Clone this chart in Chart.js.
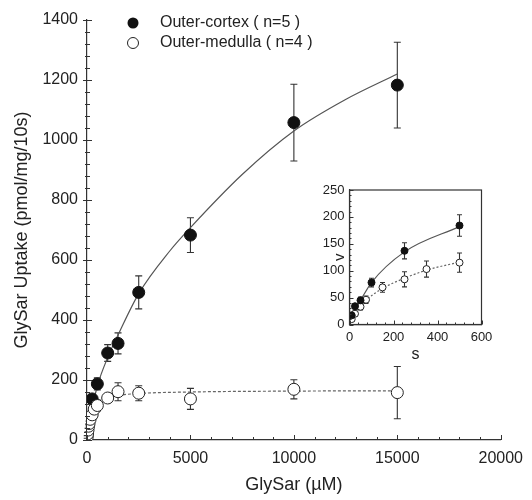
<!DOCTYPE html>
<html>
<head>
<meta charset="utf-8">
<script src="https://cdn.jsdelivr.net/npm/chart.js@4.4.1/dist/chart.umd.min.js"></script>
<style>
  body { margin: 0; background: #fff; }
  #wrap { position: relative; width: 532px; height: 500px; }
  #main { position: absolute; left: 0; top: 0; }
  #inset { position: absolute; left: 315px; top: 175px; }
</style>
</head>
<body>
<div id="wrap">
  <canvas id="main" width="532" height="500"></canvas>
  <canvas id="inset" width="185" height="190"></canvas>
</div>
<script>
// Datos del gráfico principal (GlySar en µM)
const xTicks = [0, 5000, 10000, 15000, 20000];
const yTicks = [0, 200, 400, 600, 800, 1000, 1200, 1400];

const cortexConc = [250, 500, 1000, 1500, 2500, 5000, 10000, 15000];
const cortexUptake = [137, 187, 290, 322, 492, 683, 1058, 1183];
const cortexErr = [15, 20, 28, 35, 55, 58, 128, 143];

const medullaConc = [10, 25, 50, 75, 100, 150, 250, 350, 500, 1000, 1500, 2500, 5000, 10000, 15000];
const medullaUptake = [10, 20, 33, 46, 55, 69, 84, 103, 115, 140, 161, 156, 137, 169, 158];
const medullaErr = [4, 5, 6, 7, 8, 9, 14, 15, 18, 12, 30, 25, 35, 32, 87];

// curvas ajustadas
const cortexFitX = [0, 250, 500, 1000, 1500, 2500, 4000, 5000, 7500, 10000, 12500, 15000];
const cortexFitY = [0, 105, 180, 275, 350, 488, 630, 708, 885, 1030, 1135, 1220];
const medullaFitX = [0, 50, 100, 250, 500, 1000, 1500, 2500, 5000, 10000, 15000];
const medullaFitY = [0, 35, 55, 88, 115, 138, 148, 155, 160, 163, 164];

// Datos del recuadro (s, v)
const insetXTicks = [0, 200, 400, 600];
const insetYTicks = [0, 50, 100, 150, 200, 250];
const insetCortexS = [10, 25, 50, 100, 250, 500];
const insetCortexV = [17, 34, 45, 78, 137, 184];
const insetCortexErr = [4, 5, 6, 8, 15, 20];
const insetMedullaS = [10, 25, 50, 75, 150, 250, 350, 500];
const insetMedullaV = [10, 20, 33, 46, 69, 84, 103, 115];
const insetMedullaErr = [4, 5, 6, 7, 9, 14, 15, 18];
const insetCortexFitS = [0, 25, 50, 100, 250, 500];
const insetCortexFitV = [0, 28, 45, 78, 135, 182];
const insetMedullaFitS = [0, 25, 50, 75, 150, 250, 350, 500];
const insetMedullaFitV = [0, 22, 34, 45, 67, 86, 101, 116];

const legendLabels = ["Outer-cortex ( n=5 )", "Outer-medulla ( n=4 )"];

Chart.defaults.font.family = 'Arial, "Liberation Sans", sans-serif';
Chart.defaults.color = "#222";

function puntos(xs, ys) {
    return xs.map((x, i) => ({ x: x, y: ys[i] }));
}

// barras de error a partir de dataset.errors
const barrasError = {
    id: "barrasError",
    beforeDatasetsDraw(chart, args, opts) {
        const ctx = chart.ctx;
        const sx = chart.scales.x, sy = chart.scales.y;
        ctx.save();
        ctx.strokeStyle = "#333";
        ctx.lineWidth = 1.1;
        chart.data.datasets.forEach(ds => {
            if (!ds.errors) return;
            ds.data.forEach((p, j) => {
                const e = ds.errors[j];
                const px = sx.getPixelForValue(p.x);
                const top = sy.getPixelForValue(p.y + e);
                const bot = sy.getPixelForValue(Math.max(p.y - e, 0));
                ctx.beginPath();
                ctx.moveTo(px, top); ctx.lineTo(px, bot);
                ctx.moveTo(px - opts.cap, top); ctx.lineTo(px + opts.cap, top);
                ctx.moveTo(px - opts.cap, bot); ctx.lineTo(px + opts.cap, bot);
                ctx.stroke();
            });
        });
        ctx.restore();
    }
};

// marcas mayores y menores de los ejes
const marcasEjes = {
    id: "marcasEjes",
    afterDraw(chart, args, opts) {
        const ctx = chart.ctx;
        const sx = chart.scales.x, sy = chart.scales.y;
        const a = chart.chartArea;
        ctx.save();
        ctx.strokeStyle = "#333";
        ctx.lineWidth = 1;
        ctx.beginPath();
        for (let v = sx.min; v <= sx.max; v += opts.xMinor) {
            const px = Math.round(sx.getPixelForValue(v)) + 0.5;
            const len = v % opts.xMajor === 0 ? opts.major : opts.minor;
            ctx.moveTo(px, a.bottom); ctx.lineTo(px, a.bottom - len);
        }
        for (let v = sy.min; v <= sy.max; v += opts.yMinor) {
            const py = Math.round(sy.getPixelForValue(v)) + 0.5;
            const major = v % opts.yMajor === 0;
            const len = major ? opts.major : opts.minor;
            const out = major ? opts.out : opts.out / 2;
            ctx.moveTo(a.left - out, py); ctx.lineTo(a.left + len, py);
        }
        ctx.stroke();
        if (opts.box) {
            ctx.lineWidth = 1.2;
            ctx.strokeRect(a.left, a.top, a.right - a.left, a.bottom - a.top);
        }
        ctx.restore();
    }
};

// leyenda dentro del gráfico
const leyenda = {
    id: "leyenda",
    afterDraw(chart) {
        const ctx = chart.ctx;
        ctx.save();
        ctx.font = '16px Arial, "Liberation Sans", sans-serif';
        ctx.fillStyle = "#222";
        ctx.textBaseline = "middle";
        ctx.fillText(legendLabels[0], 160, 23);
        ctx.fillText(legendLabels[1], 160, 43);
        ctx.beginPath();
        ctx.arc(133, 23, 5.5, 0, Math.PI * 2);
        ctx.fillStyle = "#111";
        ctx.fill();
        ctx.beginPath();
        ctx.arc(133, 43, 5.5, 0, Math.PI * 2);
        ctx.fillStyle = "#fff";
        ctx.fill();
        ctx.strokeStyle = "#222";
        ctx.lineWidth = 1;
        ctx.stroke();
        ctx.restore();
    }
};

// etiqueta "v" del recuadro
const etiquetaV = {
    id: "etiquetaV",
    afterDraw(chart) {
        const ctx = chart.ctx;
        const py = chart.scales.y.getPixelForValue(125);
        ctx.save();
        ctx.translate(chart.chartArea.left - 9.5, py);
        ctx.rotate(-Math.PI / 2);
        ctx.font = '15px Arial, "Liberation Sans", sans-serif';
        ctx.fillStyle = "#222";
        ctx.textAlign = "center";
        ctx.textBaseline = "middle";
        ctx.fillText("v", 0, 0);
        ctx.restore();
    }
};

const sinComas = v => String(v);

new Chart(document.getElementById("main"), {
    type: "scatter",
    data: {
        datasets: [
            {
                data: puntos(cortexConc, cortexUptake),
                errors: cortexErr,
                pointRadius: 6,
                backgroundColor: "#111",
                borderColor: "#111",
                borderWidth: 1,
                order: 1
            },
            {
                data: puntos(medullaConc, medullaUptake),
                errors: medullaErr,
                pointRadius: 6,
                backgroundColor: "#fff",
                borderColor: "#222",
                borderWidth: 1,
                order: 0
            },
            {
                data: puntos(cortexFitX, cortexFitY),
                showLine: true,
                cubicInterpolationMode: "monotone",
                pointRadius: 0,
                borderColor: "#555",
                borderWidth: 1.2,
                order: 3
            },
            {
                data: puntos(medullaFitX, medullaFitY),
                showLine: true,
                cubicInterpolationMode: "monotone",
                pointRadius: 0,
                borderColor: "#666",
                borderWidth: 1.2,
                borderDash: [3, 2],
                order: 3
            }
        ]
    },
    options: {
        animation: false,
        responsive: false,
        layout: { padding: { top: 20, right: 25, left: 0, bottom: 0 } },
        plugins: {
            legend: { display: false },
            tooltip: { enabled: false },
            barrasError: { cap: 3.5 },
            marcasEjes: { xMinor: 1000, xMajor: 5000, yMinor: 40, yMajor: 200, major: 5, minor: 3, out: 4, box: false }
        },
        scales: {
            x: {
                type: "linear",
                min: 0,
                max: 20000,
                afterBuildTicks: s => { s.ticks = xTicks.map(v => ({ value: v })); },
                ticks: { padding: 9, font: { size: 16 }, maxRotation: 0, callback: sinComas },
                grid: { display: false, drawTicks: false },
                border: { color: "#333", width: 1.2 },
                title: { display: true, text: "GlySar (µM)", font: { size: 18 }, padding: { top: 0, bottom: 4 } },
                afterFit: s => { s.height = 60; }
            },
            y: {
                min: 0,
                max: 1400,
                afterBuildTicks: s => { s.ticks = yTicks.map(v => ({ value: v })); },
                ticks: { padding: 9, font: { size: 16 }, callback: sinComas },
                grid: { display: false, drawTicks: false },
                border: { color: "#333", width: 1.2 },
                title: { display: true, text: "GlySar Uptake (pmol/mg/10s)", font: { size: 18 }, padding: { top: 11, bottom: 0 } },
                afterFit: s => { s.width = 87; }
            }
        }
    },
    plugins: [barrasError, marcasEjes, leyenda]
});

new Chart(document.getElementById("inset"), {
    type: "scatter",
    data: {
        datasets: [
            {
                data: puntos(insetCortexS, insetCortexV),
                errors: insetCortexErr,
                pointRadius: 3.5,
                backgroundColor: "#111",
                borderColor: "#111",
                borderWidth: 1,
                order: 0
            },
            {
                data: puntos(insetMedullaS, insetMedullaV),
                errors: insetMedullaErr,
                pointRadius: 3.5,
                backgroundColor: "#fff",
                borderColor: "#222",
                borderWidth: 1,
                order: 1
            },
            {
                data: puntos(insetCortexFitS, insetCortexFitV),
                showLine: true,
                cubicInterpolationMode: "monotone",
                pointRadius: 0,
                borderColor: "#555",
                borderWidth: 1.2,
                order: 3
            },
            {
                data: puntos(insetMedullaFitS, insetMedullaFitV),
                showLine: true,
                cubicInterpolationMode: "monotone",
                pointRadius: 0,
                borderColor: "#666",
                borderWidth: 1.2,
                borderDash: [2, 2],
                order: 3
            }
        ]
    },
    options: {
        animation: false,
        responsive: false,
        layout: { padding: { top: 15, right: 18.5, left: 0, bottom: 0 } },
        plugins: {
            legend: { display: false },
            tooltip: { enabled: false },
            barrasError: { cap: 2.5 },
            marcasEjes: { xMinor: 40, xMajor: 200, yMinor: 10, yMajor: 50, major: 4, minor: 2, out: 0, box: true }
        },
        scales: {
            x: {
                type: "linear",
                min: 0,
                max: 600,
                afterBuildTicks: s => { s.ticks = insetXTicks.map(v => ({ value: v })); },
                ticks: { padding: 5, font: { size: 13 }, maxRotation: 0, callback: sinComas },
                grid: { display: false, drawTicks: false },
                border: { color: "#333", width: 1.2 },
                title: { display: true, text: "s", font: { size: 16 }, padding: { top: 0, bottom: 1 } },
                afterFit: s => { s.height = 40.5; }
            },
            y: {
                min: 0,
                max: 250,
                afterBuildTicks: s => { s.ticks = insetYTicks.map(v => ({ value: v })); },
                ticks: { padding: 5, font: { size: 13 }, callback: sinComas },
                grid: { display: false, drawTicks: false },
                border: { color: "#333", width: 1.2 },
                afterFit: s => { s.width = 34.5; }
            }
        }
    },
    plugins: [barrasError, marcasEjes, etiquetaV]
});
</script>
</body>
</html>
